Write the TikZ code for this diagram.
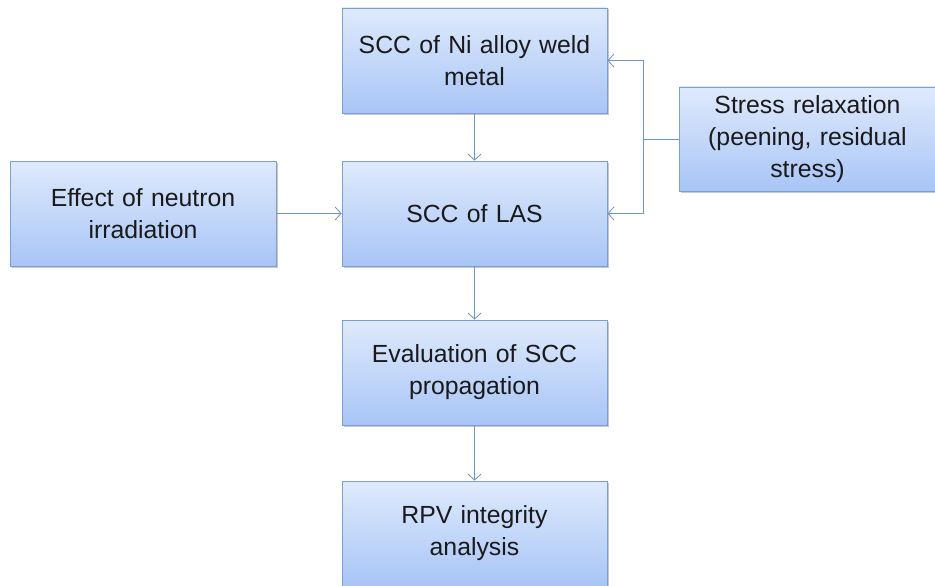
\documentclass[tikz,border=0pt]{standalone}
\usepackage{fontspec}
\setmainfont{Liberation Sans}
\usetikzlibrary{arrows.meta,shadows}
\definecolor{boxtop}{HTML}{DFEAFC}
\definecolor{boxbot}{HTML}{A8C5F6}
\definecolor{boxline}{HTML}{7B9ED3}
\definecolor{conn}{HTML}{6F93C8}
\definecolor{txt}{HTML}{1A1A1A}
\tikzset{
  box/.style={rectangle, draw=boxline, line width=0.8pt, top color=boxtop, bottom color=boxbot,
    minimum width=265pt, minimum height=105pt, text width=255pt, align=center,
    font=\fontsize{24.8}{32}\selectfont, text=txt, inner sep=0pt,
    drop shadow={shadow xshift=1.5pt, shadow yshift=-1.5pt, opacity=0.35, fill=black!60}},
  conn/.style={draw=conn, line width=1pt},
  arr/.style={conn, -{Straight Barb[length=6pt,width=13pt,line width=0.8pt]}}
}
\begin{document}
\begin{tikzpicture}[x=1pt,y=-1pt]
\useasboundingbox (0,0) rectangle (935,586);
\fill[white] (0,0) rectangle (935,586);
\node[box] (ni) at (474.5,60.5) {SCC of Ni alloy weld\\metal};
\node[box] (las) at (474.5,213.5) {SCC of LAS};
\node[box] (ev) at (474.5,372.5) {Evaluation of SCC\\propagation};
\node[box] (rpv) at (474.5,533.5) {RPV integrity\\analysis};
\node[box, minimum width=266pt] (neu) at (143,213.5) {Effect of neutron\\irradiation};
\node[box, minimum width=256pt, minimum height=104pt, text width=248pt] (str) at (807.5,139) {Stress relaxation\\(peening, residual\\stress)};
\coordinate (j) at (643,139);
\draw[arr] (ni.south) -- (las.north);
\draw[arr] (las.south) -- (ev.north);
\draw[arr] (ev.south) -- (rpv.north);
\draw[arr] (neu.east) -- (las.west);
\draw[conn] (str.west) -- (j);
\draw[arr] (j) |- (ni.east);
\draw[arr] (j) |- (las.east);
\end{tikzpicture}
\end{document}
